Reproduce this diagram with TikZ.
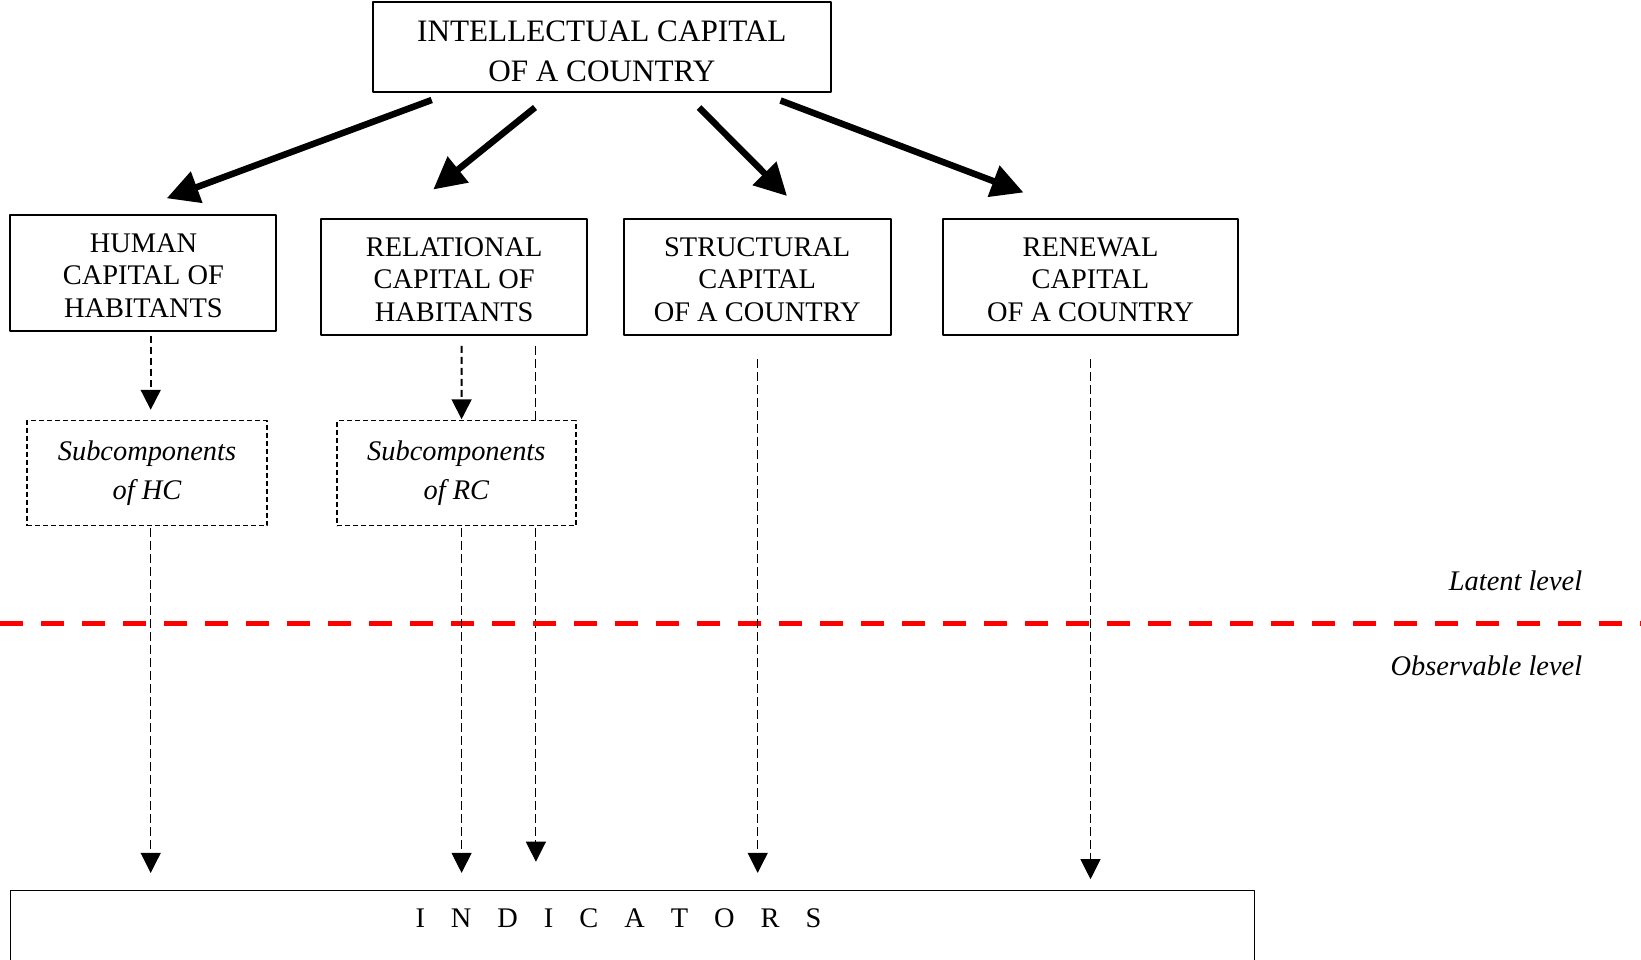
\documentclass[tikz,border=0pt]{standalone}
\usepackage{fontspec}
\setmainfont{Liberation Serif}
\usetikzlibrary{arrows.meta,backgrounds}

\newcommand{\topsize}{\fontsize{31.2pt}{40pt}\selectfont}
\newcommand{\capsize}{\fontsize{28.4pt}{32.4pt}\selectfont}
\newcommand{\subsize}{\fontsize{28.4pt}{38.7pt}\selectfont\itshape}
\newcommand{\topstrut}{\rule{0pt}{30pt}}
\newcommand{\capstrut}{\rule{0pt}{24.5pt}}

\tikzset{
	capbox/.style={draw, line width=1.9pt, align=center, inner sep=0pt, fill=white},
	subbox/.style={draw, line width=1.5pt, dash pattern=on 5pt off 3pt, fill=white, align=center, inner sep=0pt, font=\subsize},
	bigarrow/.style={line width=6.5pt, -{Triangle[length=32pt,width=32pt]}},
	subarrow/.style={line width=1.8pt, dash pattern=on 7pt off 4pt, -{Triangle[length=20pt,width=20pt]}},
	indarrow/.style={line width=1pt, dash pattern=on 9pt off 4pt, -{Triangle[length=20pt,width=20pt]}},
	levelline/.style={red, line width=5pt, dash pattern=on 23pt off 18pt},
	leveltext/.style={anchor=east, font=\subsize},
}

\begin{document}
\begin{tikzpicture}[x=1pt, y=-1pt, line join=round]
	
	\clip (0,0) rectangle (1641,959);
	
	% Top box
	\node[capbox, font=\topsize, minimum width=458pt, minimum height=90pt] (ic) at (601.8,47) {\topstrut INTELLECTUAL CAPITAL\\OF A COUNTRY};
	
	% The four capitals
	\node[capbox, font=\capsize, minimum width=266pt, minimum height=116pt] (hc) at (143.4,272.6) {\capstrut HUMAN\\CAPITAL OF\\HABITANTS};
	\node[capbox, font=\capsize, minimum width=266pt, minimum height=116pt] (rc) at (454.2,276.8) {\capstrut RELATIONAL\\CAPITAL OF\\HABITANTS};
	\node[capbox, font=\capsize, minimum width=267pt, minimum height=116pt] (sc) at (757.2,276.8) {\capstrut STRUCTURAL\\CAPITAL\\OF A COUNTRY};
	\node[capbox, font=\capsize, minimum width=295pt, minimum height=116pt] (nc) at (1090.5,276.8) {\capstrut RENEWAL\\CAPITAL\\OF A COUNTRY};
	
	% Subcomponents
	\node[subbox, minimum width=240pt, minimum height=105pt] (shc) at (147,473) {Subcomponents\\of HC};
	\node[subbox, minimum width=239pt, minimum height=105pt] (src) at (456.3,473) {Subcomponents\\of RC};
	
	% Indicators
	\node[capbox, minimum width=1244pt, minimum height=120pt, anchor=north west] (ind) at (9.5,889.5) {};
	\node[font=\capsize] (indtxt) at (618.5,918) {\spaceskip=26pt I N D I C A T O R S};
	
	% Levels
	\draw[levelline] (0,623.8) -- (1641,623.8);
	\node[leveltext] (latent) at (1585.7,581) {Latent level};
	\node[leveltext] (observ) at (1585.7,665.6) {Observable level};
	
	% Ends of the thick arrows
	\coordinate (ic1) at (431.7,100);
	\coordinate (ic2) at (535,107.5);
	\coordinate (ic3) at (699,107.5);
	\coordinate (ic4) at (780.5,100.5);
	\coordinate (hc1) at (166.7,198.3);
	\coordinate (rc1) at (433.3,189.5);
	\coordinate (sc1) at (787,196);
	\coordinate (nc1) at (1023.5,192.5);
	
	\draw[bigarrow] (ic1) -- (hc1);
	\draw[bigarrow] (ic2) -- (rc1);
	\draw[bigarrow] (ic3) -- (sc1);
	\draw[bigarrow] (ic4) -- (nc1);
	
	% Feet of the dashed arrows
	\coordinate (hcb) at ([xshift=7.3pt]hc.south);
	\coordinate (rcb) at ([xshift=7.4pt]rc.south);
	\coordinate (rcc) at ([xshift=81.7pt]rc.south);
	\coordinate (shct) at ([xshift=3.7pt]shc.north);
	\coordinate (shcb) at ([xshift=3.7pt]shc.south);
	\coordinate (srct) at ([xshift=5.3pt]src.north);
	\coordinate (srcb) at ([xshift=5.3pt]src.south);
	\coordinate (scb) at ([xshift=0.5pt]sc.south);
	
	% Dashed arrows down to the indicators
	\draw[subarrow, shorten <=4pt, shorten >=10pt] (hcb) -- (shct);
	\draw[subarrow, shorten <=10pt, shorten >=0.5pt] (rcb) -- (srct);
	\draw[indarrow, shorten <=2pt, shorten >=16.6pt] (shcb) -- (ind.north -| shcb);
	\draw[indarrow, shorten <=2pt, shorten >=16.6pt] (srcb) -- (ind.north -| srcb);
	\begin{scope}[on background layer]
		\draw[indarrow, shorten <=10pt, shorten >=27.8pt] (rcc) -- (ind.north -| rcc);
	\end{scope}
	\draw[indarrow, shorten <=23pt, shorten >=16.6pt] (scb) -- (ind.north -| scb);
	\draw[indarrow, shorten <=23pt, shorten >=10.3pt] (nc.south) -- (ind.north -| nc.south);
	
\end{tikzpicture}
\end{document}
